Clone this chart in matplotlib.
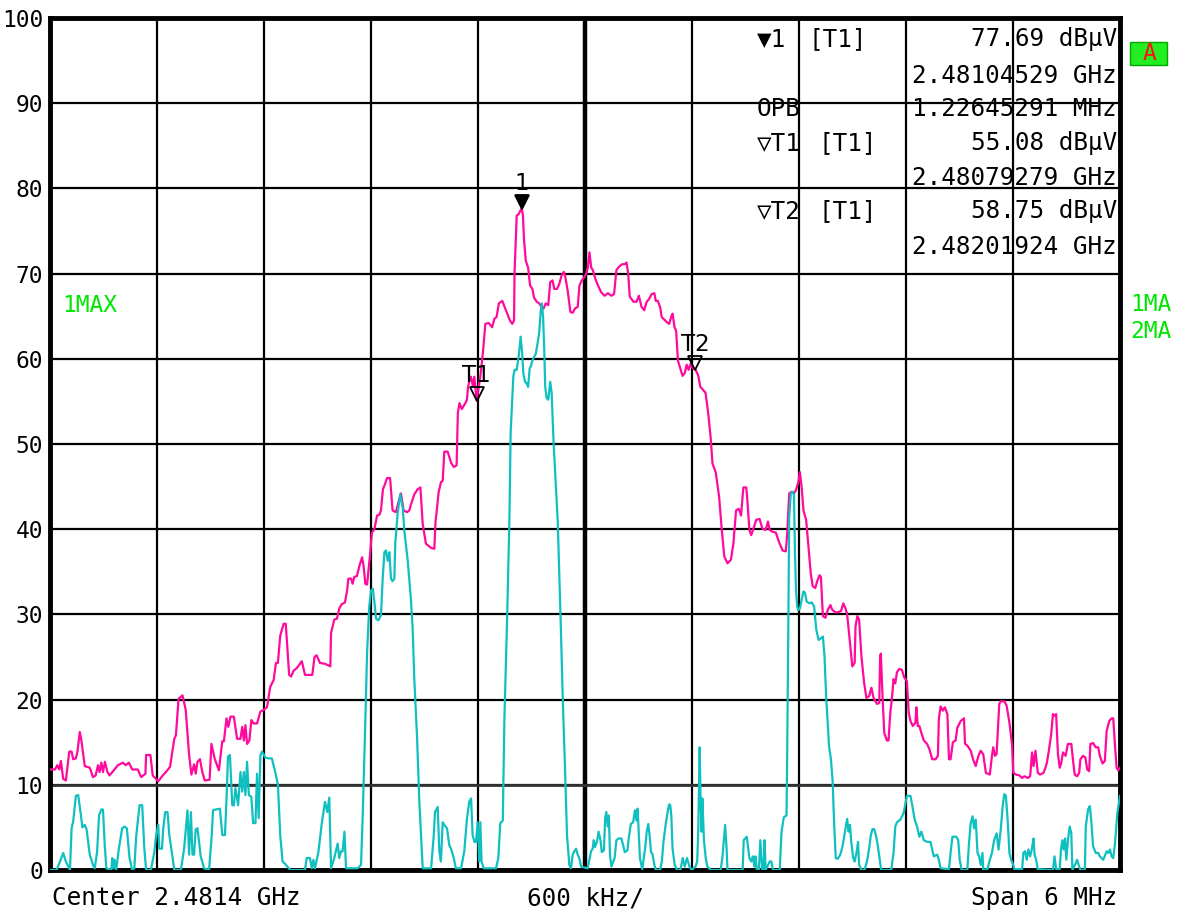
import matplotlib
matplotlib.use("Agg")
import matplotlib.pyplot as plt
from matplotlib.patches import Rectangle
from matplotlib.transforms import ScaledTranslation

# ---------------- sweep settings ----------------
CENTER_MHZ = 2481.4
SPAN_MHZ = 6.0
REF_LEVEL = 100
LEVEL_TICKS = [0, 10, 20, 30, 40, 50, 60, 70, 80, 90, 100]
OPB_MHZ = 1.22645291

# ---------------- trace 1 (max hold, magenta) ----------------
trace1_freq = [
    2478.400, 2478.428, 2478.441, 2478.452, 2478.461, 2478.474, 2478.489, 2478.508, 2478.521, 2478.530,
    2478.545, 2478.554, 2478.567, 2478.576, 2478.595, 2478.623, 2478.641, 2478.656, 2478.669, 2478.678,
    2478.688, 2478.697, 2478.708, 2478.722, 2478.734, 2478.781, 2478.809, 2478.824, 2478.842, 2478.861,
    2478.892, 2478.911, 2478.935, 2478.939, 2478.963, 2478.976, 2479.007, 2479.032, 2479.050, 2479.073,
    2479.097, 2479.106, 2479.121, 2479.143, 2479.161, 2479.180, 2479.193, 2479.208, 2479.217, 2479.227,
    2479.241, 2479.254, 2479.268, 2479.295, 2479.305, 2479.323, 2479.347, 2479.366, 2479.375, 2479.390,
    2479.400, 2479.412, 2479.431, 2479.449, 2479.468, 2479.478, 2479.487, 2479.496, 2479.505, 2479.518,
    2479.529, 2479.542, 2479.561, 2479.580, 2479.598, 2479.617, 2479.635, 2479.654, 2479.667, 2479.678,
    2479.691, 2479.710, 2479.722, 2479.741, 2479.752, 2479.766, 2479.784, 2479.812, 2479.830, 2479.849,
    2479.871, 2479.883, 2479.895, 2479.914, 2479.942, 2479.972, 2479.976, 2479.994, 2480.009, 2480.022,
    2480.036, 2480.054, 2480.066, 2480.073, 2480.088, 2480.097, 2480.106, 2480.121, 2480.135, 2480.150,
    2480.159, 2480.168, 2480.178, 2480.185, 2480.195, 2480.205, 2480.219, 2480.234, 2480.247, 2480.256,
    2480.267, 2480.275, 2480.290, 2480.307, 2480.321, 2480.340, 2480.353, 2480.368, 2480.383, 2480.402,
    2480.415, 2480.424, 2480.443, 2480.462, 2480.477, 2480.490, 2480.508, 2480.537, 2480.555, 2480.562,
    2480.567, 2480.579, 2480.592, 2480.602, 2480.611, 2480.630, 2480.649, 2480.664, 2480.680, 2480.687,
    2480.696, 2480.709, 2480.729, 2480.738, 2480.744, 2480.753, 2480.760, 2480.772, 2480.779, 2480.79279,
    2480.804, 2480.813, 2480.828, 2480.841, 2480.860, 2480.879, 2480.892, 2480.904, 2480.917, 2480.936,
    2480.949, 2480.964, 2480.979, 2480.992, 2481.002, 2481.005, 2481.017, 2481.028, 2481.04529, 2481.052,
    2481.058, 2481.068, 2481.081, 2481.092, 2481.105, 2481.114, 2481.129, 2481.143, 2481.156, 2481.167,
    2481.180, 2481.194, 2481.205, 2481.218, 2481.228, 2481.243, 2481.256, 2481.269, 2481.281, 2481.288,
    2481.303, 2481.318, 2481.331, 2481.344, 2481.359, 2481.369, 2481.382, 2481.397, 2481.407, 2481.416,
    2481.425, 2481.435, 2481.444, 2481.458, 2481.473, 2481.491, 2481.510, 2481.529, 2481.548, 2481.563,
    2481.576, 2481.590, 2481.608, 2481.623, 2481.633, 2481.642, 2481.651, 2481.671, 2481.689, 2481.702,
    2481.717, 2481.732, 2481.746, 2481.759, 2481.774, 2481.789, 2481.797, 2481.808, 2481.821, 2481.830,
    2481.849, 2481.859, 2481.872, 2481.883, 2481.891, 2481.902, 2481.911, 2481.921, 2481.934, 2481.947,
    2481.959, 2481.970, 2481.981, 2481.992, 2482.004, 2482.01924, 2482.034, 2482.047, 2482.060, 2482.076,
    2482.091, 2482.104, 2482.115, 2482.133, 2482.152, 2482.167, 2482.181, 2482.199, 2482.218, 2482.232,
    2482.247, 2482.262, 2482.275, 2482.288, 2482.304, 2482.309, 2482.322, 2482.332, 2482.345, 2482.360,
    2482.379, 2482.394, 2482.413, 2482.426, 2482.436, 2482.451, 2482.470, 2482.488, 2482.508, 2482.526,
    2482.534, 2482.545, 2482.559, 2482.572, 2482.583, 2482.596, 2482.605, 2482.615, 2482.625, 2482.640,
    2482.653, 2482.666, 2482.677, 2482.691, 2482.704, 2482.715, 2482.723, 2482.734, 2482.748, 2482.761,
    2482.776, 2482.785, 2482.794, 2482.810, 2482.836, 2482.848, 2482.861, 2482.870, 2482.886, 2482.899,
    2482.912, 2482.917, 2482.927, 2482.937, 2482.950, 2482.965, 2482.978, 2482.993, 2483.006, 2483.018,
    2483.037, 2483.050, 2483.055, 2483.059, 2483.069, 2483.078, 2483.093, 2483.102, 2483.112, 2483.121,
    2483.130, 2483.140, 2483.149, 2483.162, 2483.177, 2483.190, 2483.205, 2483.215, 2483.225, 2483.238,
    2483.253, 2483.258, 2483.266, 2483.275, 2483.286, 2483.300, 2483.318, 2483.331, 2483.347, 2483.366,
    2483.379, 2483.384, 2483.394, 2483.407, 2483.418, 2483.432, 2483.441, 2483.450, 2483.463, 2483.478,
    2483.488, 2483.507, 2483.525, 2483.531, 2483.544, 2483.563, 2483.576, 2483.591, 2483.606, 2483.619,
    2483.633, 2483.648, 2483.670, 2483.682, 2483.689, 2483.699, 2483.708, 2483.723, 2483.732, 2483.751,
    2483.764, 2483.780, 2483.795, 2483.802, 2483.817, 2483.836, 2483.851, 2483.864, 2483.883, 2483.896,
    2483.907, 2483.915, 2483.926, 2483.939, 2483.952, 2483.971, 2483.982, 2483.990, 2484.001, 2484.014,
    2484.024, 2484.033, 2484.042, 2484.052, 2484.062, 2484.071, 2484.080, 2484.095, 2484.108, 2484.127,
    2484.137, 2484.146, 2484.159, 2484.171, 2484.178, 2484.193, 2484.206, 2484.216, 2484.227, 2484.234,
    2484.249, 2484.264, 2484.278, 2484.287, 2484.302, 2484.315, 2484.325, 2484.340, 2484.353, 2484.362,
    2484.372, 2484.381, 2484.390, 2484.400,
]
trace1_level = [
    11.8, 11.8, 12.3, 11.8, 12.8, 10.7, 10.5, 13.9, 13.9, 13.0,
    13.1, 13.9, 16.2, 15.2, 12.2, 12.0, 10.9, 11.1, 12.3, 11.5,
    12.6, 11.5, 12.7, 11.5, 11.1, 12.3, 12.6, 12.3, 12.6, 11.8,
    11.8, 10.9, 11.3, 13.5, 13.5, 11.1, 10.4, 11.1, 11.5, 12.1,
    15.4, 15.8, 20.1, 20.5, 18.8, 13.5, 11.2, 12.4, 11.3, 12.7,
    13.0, 11.5, 10.5, 10.6, 14.8, 13.1, 11.7, 15.1, 15.1, 17.8,
    16.8, 18.0, 18.0, 15.4, 15.4, 16.8, 15.2, 17.0, 14.8, 15.2,
    17.6, 17.2, 17.2, 18.6, 18.8, 19.1, 21.5, 22.3, 24.3, 24.3,
    27.5, 28.9, 28.9, 22.9, 22.7, 23.4, 23.7, 24.5, 22.9, 22.9,
    22.9, 25.0, 25.2, 24.3, 24.2, 23.9, 27.8, 29.4, 29.5, 30.7,
    31.2, 31.4, 32.8, 34.2, 34.2, 33.6, 34.4, 34.5, 35.7, 36.7,
    35.6, 33.6, 33.5, 35.0, 37.1, 39.6, 40.0, 41.6, 41.7, 42.2,
    44.7, 45.1, 46.0, 46.0, 42.2, 42.0, 43.1, 44.2, 42.2, 42.0,
    42.2, 42.9, 44.1, 44.7, 44.9, 40.6, 38.3, 37.8, 37.7, 41.0,
    41.8, 44.3, 45.5, 45.7, 49.1, 49.1, 47.8, 47.3, 47.5, 53.6,
    54.8, 54.1, 54.8, 55.2, 56.7, 57.5, 57.9, 56.7, 57.9, 55.08,
    56.7, 57.9, 60.8, 64.1, 64.2, 63.7, 64.7, 64.9, 66.5, 66.8,
    66.1, 65.3, 64.5, 64.1, 64.5, 70.2, 76.8, 77.0, 77.69, 76.8,
    74.0, 71.5, 70.7, 68.6, 68.2, 67.2, 66.7, 66.5, 66.1, 65.9,
    66.5, 66.3, 69.0, 69.2, 68.2, 68.2, 68.8, 69.8, 70.2, 69.8,
    68.0, 65.5, 65.4, 65.9, 66.1, 68.6, 69.2, 69.6, 70.0, 70.7,
    72.5, 70.7, 70.4, 69.4, 68.6, 67.8, 67.4, 67.7, 67.4, 67.6,
    70.4, 70.8, 71.1, 71.1, 71.3, 70.0, 67.3, 66.7, 66.7, 67.4,
    66.1, 65.7, 66.7, 67.0, 67.6, 67.7, 66.8, 66.8, 66.1, 64.9,
    64.5, 64.3, 64.1, 64.9, 65.3, 63.7, 63.3, 59.8, 58.9, 58.0,
    58.3, 59.3, 58.7, 59.4, 58.9, 58.75, 58.1, 56.7, 56.4, 56.0,
    53.6, 50.9, 47.7, 46.7, 43.8, 39.9, 36.8, 36.0, 36.4, 38.3,
    42.2, 42.4, 41.6, 44.9, 44.9, 43.8, 39.9, 39.3, 40.1, 41.1,
    41.2, 40.1, 39.9, 40.9, 39.9, 39.7, 39.6, 38.5, 37.5, 37.4,
    39.5, 44.2, 44.4, 44.2, 44.6, 45.5, 46.7, 44.9, 42.2, 41.1,
    37.9, 34.8, 33.3, 33.1, 34.0, 34.6, 34.4, 29.8, 29.6, 30.5,
    31.1, 30.6, 30.4, 30.2, 30.4, 31.3, 30.7, 30.0, 26.7, 23.9,
    24.3, 28.6, 29.8, 29.4, 25.1, 22.0, 20.2, 20.4, 21.4, 20.2,
    19.5, 19.6, 25.1, 25.4, 20.1, 16.1, 15.2, 15.2, 18.5, 20.1,
    22.4, 21.9, 23.2, 23.6, 23.5, 22.6, 22.2, 18.5, 17.5, 16.9,
    17.3, 19.1, 16.9, 16.9, 16.1, 15.2, 14.8, 14.2, 13.0, 13.0,
    13.4, 17.7, 19.2, 18.7, 19.1, 18.3, 13.0, 13.0, 15.0, 15.2,
    16.7, 17.5, 17.8, 14.8, 14.6, 14.0, 13.0, 12.2, 13.4, 14.0,
    13.6, 11.4, 11.2, 13.4, 14.4, 13.4, 13.6, 19.5, 19.8, 19.8,
    19.3, 17.3, 14.6, 11.4, 11.2, 11.1, 10.8, 11.0, 10.8, 11.0,
    13.8, 12.2, 14.0, 11.4, 11.2, 11.4, 12.0, 12.6, 14.0, 15.9,
    18.3, 18.1, 18.3, 13.6, 12.0, 12.6, 13.8, 13.4, 14.8, 14.8,
    12.8, 11.2, 11.0, 11.4, 13.0, 13.4, 13.2, 11.8, 11.6, 14.8,
    14.9, 14.4, 14.4, 13.4, 12.5, 12.8, 16.3, 17.5, 17.8, 17.8,
    14.6, 12.0, 11.7, 12.0,
]

# ---------------- trace 2 (max hold, cyan) ----------------
trace2_freq = [
    2478.400, 2478.437, 2478.456, 2478.474, 2478.489, 2478.512, 2478.521, 2478.530, 2478.545, 2478.558,
    2478.571, 2478.582, 2478.595, 2478.605, 2478.623, 2478.641, 2478.651, 2478.664, 2478.675, 2478.688,
    2478.697, 2478.707, 2478.716, 2478.744, 2478.749, 2478.756, 2478.762, 2478.771, 2478.786, 2478.805,
    2478.818, 2478.831, 2478.846, 2478.861, 2478.873, 2478.883, 2478.892, 2478.902, 2478.917, 2478.929,
    2478.939, 2478.966, 2478.985, 2478.995, 2479.007, 2479.013, 2479.028, 2479.035, 2479.046, 2479.059,
    2479.069, 2479.083, 2479.097, 2479.134, 2479.152, 2479.161, 2479.171, 2479.180, 2479.190, 2479.199,
    2479.208, 2479.217, 2479.227, 2479.245, 2479.264, 2479.292, 2479.307, 2479.314, 2479.329, 2479.353,
    2479.366, 2479.381, 2479.390, 2479.398, 2479.409, 2479.422, 2479.431, 2479.440, 2479.455, 2479.468,
    2479.478, 2479.487, 2479.496, 2479.505, 2479.515, 2479.529, 2479.539, 2479.552, 2479.561, 2479.570,
    2479.580, 2479.589, 2479.607, 2479.626, 2479.644, 2479.663, 2479.678, 2479.691, 2479.704, 2479.719,
    2479.747, 2479.830, 2479.839, 2479.858, 2479.868, 2479.877, 2479.886, 2479.905, 2479.923, 2479.942,
    2479.955, 2479.966, 2479.976, 2479.994, 2480.013, 2480.022, 2480.032, 2480.041, 2480.051, 2480.060,
    2480.125, 2480.144, 2480.153, 2480.166, 2480.178, 2480.190, 2480.200, 2480.210, 2480.219, 2480.228,
    2480.241, 2480.256, 2480.265, 2480.275, 2480.284, 2480.294, 2480.303, 2480.312, 2480.321, 2480.331,
    2480.336, 2480.349, 2480.364, 2480.378, 2480.387, 2480.406, 2480.424, 2480.433, 2480.443, 2480.458,
    2480.471, 2480.490, 2480.537, 2480.552, 2480.559, 2480.574, 2480.583, 2480.592, 2480.602, 2480.611,
    2480.626, 2480.639, 2480.649, 2480.664, 2480.676, 2480.705, 2480.723, 2480.738, 2480.751, 2480.761,
    2480.770, 2480.780, 2480.789, 2480.798, 2480.807, 2480.813, 2480.820, 2480.832, 2480.901, 2480.914,
    2480.925, 2480.939, 2480.948, 2480.963, 2480.976, 2480.983, 2480.998, 2481.005, 2481.017, 2481.030,
    2481.039, 2481.048, 2481.054, 2481.064, 2481.073, 2481.081, 2481.090, 2481.096, 2481.105, 2481.114,
    2481.124, 2481.134, 2481.143, 2481.152, 2481.158, 2481.165, 2481.171, 2481.177, 2481.185, 2481.194,
    2481.205, 2481.213, 2481.224, 2481.247, 2481.266, 2481.276, 2481.288, 2481.299, 2481.312, 2481.321,
    2481.331, 2481.340, 2481.350, 2481.359, 2481.368, 2481.378, 2481.415, 2481.434, 2481.443, 2481.449,
    2481.456, 2481.468, 2481.476, 2481.487, 2481.494, 2481.506, 2481.513, 2481.519, 2481.528, 2481.534,
    2481.540, 2481.548, 2481.566, 2481.576, 2481.589, 2481.604, 2481.614, 2481.623, 2481.638, 2481.645,
    2481.657, 2481.670, 2481.680, 2481.689, 2481.695, 2481.699, 2481.708, 2481.721, 2481.727, 2481.737,
    2481.746, 2481.755, 2481.765, 2481.770, 2481.778, 2481.789, 2481.797, 2481.821, 2481.831, 2481.840,
    2481.854, 2481.865, 2481.872, 2481.878, 2481.884, 2481.891, 2481.903, 2481.916, 2481.935, 2481.948,
    2481.959, 2481.972, 2481.986, 2481.997, 2482.020, 2482.029, 2482.035, 2482.043, 2482.048, 2482.054,
    2482.058, 2482.067, 2482.077, 2482.086, 2482.105, 2482.161, 2482.171, 2482.181, 2482.186, 2482.194,
    2482.199, 2482.284, 2482.290, 2482.298, 2482.307, 2482.313, 2482.322, 2482.332, 2482.341, 2482.350,
    2482.356, 2482.364, 2482.375, 2482.383, 2482.394, 2482.401, 2482.407, 2482.413, 2482.436, 2482.445,
    2482.454, 2482.492, 2482.502, 2482.515, 2482.530, 2482.534, 2482.539, 2482.545, 2482.554, 2482.564,
    2482.572, 2482.577, 2482.583, 2482.590, 2482.596, 2482.605, 2482.615, 2482.625, 2482.634, 2482.643,
    2482.659, 2482.672, 2482.685, 2482.697, 2482.710, 2482.723, 2482.734, 2482.743, 2482.753, 2482.761,
    2482.768, 2482.779, 2482.789, 2482.794, 2482.800, 2482.806, 2482.817, 2482.829, 2482.836, 2482.845,
    2482.855, 2482.861, 2482.870, 2482.878, 2482.886, 2482.893, 2482.904, 2482.912, 2482.923, 2482.931,
    2482.937, 2482.950, 2482.968, 2482.983, 2482.993, 2483.003, 2483.012, 2483.021, 2483.031, 2483.040,
    2483.061, 2483.117, 2483.130, 2483.140, 2483.149, 2483.168, 2483.187, 2483.196, 2483.205, 2483.225,
    2483.234, 2483.249, 2483.262, 2483.275, 2483.286, 2483.300, 2483.318, 2483.337, 2483.347, 2483.356,
    2483.375, 2483.384, 2483.394, 2483.441, 2483.450, 2483.460, 2483.482, 2483.493, 2483.501, 2483.512,
    2483.544, 2483.553, 2483.563, 2483.573, 2483.582, 2483.591, 2483.601, 2483.610, 2483.619, 2483.629,
    2483.633, 2483.657, 2483.670, 2483.682, 2483.694, 2483.708, 2483.719, 2483.732, 2483.742, 2483.751,
    2483.760, 2483.770, 2483.780, 2483.789, 2483.798, 2483.808, 2483.851, 2483.858, 2483.868, 2483.877,
    2483.886, 2483.896, 2483.907, 2483.915, 2483.921, 2483.930, 2483.939, 2484.024, 2484.033, 2484.042,
    2484.062, 2484.069, 2484.077, 2484.084, 2484.092, 2484.099, 2484.108, 2484.118, 2484.127, 2484.133,
    2484.152, 2484.159, 2484.171, 2484.178, 2484.203, 2484.208, 2484.221, 2484.231, 2484.240, 2484.249,
    2484.264, 2484.278, 2484.287, 2484.306, 2484.325, 2484.334, 2484.344, 2484.353, 2484.362, 2484.372,
    2484.385, 2484.400,
]
trace2_level = [
    0.0, 0.0, 1.0, 2.0, 1.0, 0.0, 4.9, 5.7, 8.7, 8.8,
    6.8, 5.0, 5.3, 4.8, 1.8, 0.6, 0.2, 2.1, 6.4, 7.1,
    7.1, 2.9, 0.2, 0.0, 1.4, 0.2, 1.2, 0.0, 2.5, 4.9,
    5.1, 4.9, 1.4, 0.0, 0.2, 3.9, 5.7, 7.6, 7.6, 2.5,
    0.0, 0.0, 2.1, 4.1, 5.3, 2.5, 2.5, 4.9, 6.8, 6.8,
    4.1, 2.1, 0.0, 0.0, 2.5, 4.7, 7.0, 1.8, 6.8, 1.8,
    1.8, 4.8, 4.9, 1.6, 0.2, 0.0, 4.1, 7.0, 7.1, 7.2,
    4.1, 4.1, 8.4, 13.3, 13.5, 7.6, 7.6, 9.6, 7.6, 11.5,
    9.2, 11.5, 8.8, 12.7, 8.8, 8.6, 5.5, 5.5, 11.3, 6.1,
    13.5, 13.9, 13.2, 13.1, 13.1, 11.5, 10.0, 4.1, 1.0, 0.7,
    0.0, 0.0, 1.4, 1.4, 0.2, 1.2, 0.2, 2.1, 5.3, 8.0,
    6.8, 8.5, 0.2, 1.4, 3.1, 1.4, 2.2, 2.2, 4.5, 0.2,
    0.2, 0.6, 6.0, 15.7, 25.5, 30.9, 32.8, 33.0, 31.5, 29.5,
    29.3, 29.9, 34.0, 37.3, 37.5, 36.3, 37.3, 34.2, 33.9, 34.2,
    38.3, 41.8, 44.1, 42.5, 39.8, 36.3, 31.7, 28.6, 22.3, 15.7,
    8.0, 0.2, 0.2, 4.1, 6.8, 7.4, 2.2, 1.0, 5.6, 5.3,
    4.9, 2.9, 2.5, 1.4, 0.2, 0.2, 2.2, 6.0, 8.0, 8.4,
    4.1, 3.3, 3.3, 5.6, 1.0, 5.6, 1.0, 0.2, 0.2, 1.4,
    5.5, 5.8, 17.7, 29.3, 41.0, 51.3, 57.9, 58.7, 58.7, 60.6,
    62.6, 60.6, 58.3, 57.3, 57.1, 56.7, 58.9, 59.1, 59.8, 60.2,
    60.6, 61.8, 63.0, 65.7, 66.5, 64.9, 61.4, 56.7, 55.4, 55.2,
    57.3, 56.0, 50.1, 41.0, 27.4, 19.6, 11.9, 4.1, 0.6, 0.2,
    1.8, 2.2, 2.5, 1.8, 1.4, 0.4, 0.2, 2.2, 2.5, 3.5,
    2.7, 3.4, 4.5, 3.5, 2.1, 2.3, 6.0, 6.8, 5.1, 6.4,
    1.8, 0.4, 1.4, 3.5, 3.7, 3.7, 2.9, 2.1, 2.3, 3.7,
    5.4, 5.6, 7.0, 5.8, 7.2, 5.4, 1.4, 0.1, 1.0, 2.5,
    4.5, 5.4, 3.5, 2.1, 1.9, 0.6, 0.0, 0.0, 1.0, 3.3,
    5.6, 7.0, 7.7, 7.6, 6.4, 2.5, 0.6, 0.0, 0.0, 1.4,
    0.4, 1.4, 0.4, 0.0, 0.4, 1.0, 4.5, 14.4, 8.4, 4.5,
    8.4, 3.5, 1.4, 0.4, 0.0, 0.0, 1.6, 4.1, 5.3, 2.5,
    0.0, 0.0, 3.5, 3.7, 3.9, 2.9, 1.4, 1.0, 1.6, 0.4,
    1.6, 0.0, 0.0, 3.5, 0.0, 0.0, 3.5, 0.0, 1.0, 1.0,
    0.0, 0.0, 4.5, 6.2, 6.4, 14.2, 25.9, 41.4, 44.2, 44.4,
    44.0, 37.5, 32.9, 30.9, 30.5, 30.7, 31.7, 32.7, 32.5, 31.5,
    31.3, 31.4, 30.9, 28.2, 27.0, 27.2, 27.4, 25.1, 20.0, 17.3,
    14.6, 13.0, 10.3, 7.2, 4.1, 1.4, 1.3, 1.7, 2.1, 2.9,
    4.1, 4.9, 6.0, 4.5, 5.3, 3.3, 1.4, 1.0, 2.1, 3.3,
    0.6, 0.0, 0.0, 1.2, 2.5, 4.1, 4.8, 4.8, 4.1, 3.1,
    0.0, 0.0, 2.0, 5.1, 5.6, 5.9, 6.7, 7.7, 8.7, 8.7,
    7.7, 5.9, 5.1, 3.9, 4.5, 3.5, 3.3, 3.3, 2.4, 1.6,
    1.8, 1.2, 0.2, 0.1, 2.0, 3.9, 3.9, 3.5, 1.2, 0.0,
    0.0, 3.1, 5.5, 6.3, 4.9, 5.9, 2.0, 1.6, 0.6, 2.0,
    0.0, 0.1, 1.2, 2.0, 3.5, 4.3, 2.4, 4.9, 7.5, 8.9,
    8.7, 5.9, 2.0, 1.2, 0.8, 0.1, 0.1, 2.0, 2.2, 1.2,
    2.4, 1.6, 2.6, 3.7, 1.8, 1.2, 0.1, 0.0, 1.6, 0.1,
    0.1, 2.4, 3.5, 2.4, 3.7, 1.2, 3.5, 5.1, 4.3, 0.0,
    0.8, 1.2, 0.4, 0.0, 0.0, 5.1, 7.1, 7.5, 5.5, 2.8,
    2.0, 2.0, 1.6, 1.2, 2.2, 2.0, 2.4, 1.6, 1.4, 3.1,
    6.7, 8.7,
]

# ---------------- markers ----------------
marker_names = ["1", "T1", "T2"]
marker_freq_ghz = [2.48104529, 2.48079279, 2.48201924]
marker_level = [77.69, 55.08, 58.75]

# ---------------- colours / fonts ----------------
TRACE1_COLOR = "#ff0a9c"
TRACE2_COLOR = "#10c0c0"
LABEL_GREEN = "#00e600"
MONO = ["DejaVu Sans Mono", "DejaVu Sans"]
FS = 17.5        # annotation text
FS_TICK = 16.5   # level scale

W, H = 1182, 913
fig = plt.figure(figsize=(W / 100, H / 100), dpi=100)
fig.patch.set_facecolor("white")


def fx(px):
    return px / W


def fy(py):
    return 1 - py / H


ax = fig.add_axes([fx(50), fy(870), fx(1120) - fx(50), fy(18) - fy(870)])
f_start = CENTER_MHZ - SPAN_MHZ / 2
f_stop = CENTER_MHZ + SPAN_MHZ / 2
ax.set_xlim(f_start, f_stop)
ax.set_ylim(0, REF_LEVEL)

# graticule
xgrid = [f_start + i * SPAN_MHZ / 10 for i in range(11)]
ax.set_xticks(xgrid)
ax.set_xticklabels([])
ax.set_yticks(LEVEL_TICKS)
ax.set_yticklabels([str(v) for v in LEVEL_TICKS], family=MONO, fontsize=FS_TICK)
ax.tick_params(axis="both", length=0, pad=5)
ax.grid(True, color="black", linewidth=1.6, zorder=1)
ax.set_axisbelow(True)
ax.axvline(CENTER_MHZ, color="black", linewidth=3.2, zorder=1)
# display line at 10 dB
ax.axhline(10, color="#333333", linewidth=2.0, zorder=1.1)
for s in ax.spines.values():
    s.set_linewidth(3.5)
    s.set_color("black")

# traces
ax.plot(trace1_freq, trace1_level, color=TRACE1_COLOR, linewidth=1.6, zorder=3)
ax.plot(trace2_freq, trace2_level, color=TRACE2_COLOR, linewidth=1.6, zorder=3)

# markers on the traces (triangle tip sits on the marker level)
tip_shift = ScaledTranslation(0, 6.5 / 100, fig.dpi_scale_trans)
for name, fg, lev in zip(marker_names, marker_freq_ghz, marker_level):
    fm = fg * 1000.0
    filled = name == "1"
    ax.plot([fm], [lev], marker="v", markersize=9.5, linestyle="none",
            markerfacecolor="black" if filled else "none",
            markeredgecolor="black", markeredgewidth=1.3, zorder=4,
            transform=ax.transData + tip_shift)
    ax.annotate(name, xy=(fm, lev), xytext=(0, 25), textcoords="offset pixels",
                ha="center", va="center", fontsize=FS_TICK,
                family=["DejaVu Sans", "DejaVu Sans Mono"], color="black", zorder=5)


# marker table
def fmt_level(v):
    return f"{v:.2f} dB\u00b5V"


def fmt_freq(v):
    return f"{v:.8f} GHz"


rows = [
    (39, "\u25bc1", 808, "[T1]", fmt_level(marker_level[0])),
    (76, "", None, "", fmt_freq(marker_freq_ghz[0])),
    (109, "OPB", None, "", f"{OPB_MHZ:.8f} MHz"),
    (143, "\u25bdT1", 818, "[T1]", fmt_level(marker_level[1])),
    (178, "", None, "", fmt_freq(marker_freq_ghz[1])),
    (211, "\u25bdT2", 818, "[T1]", fmt_level(marker_level[2])),
    (247, "", None, "", fmt_freq(marker_freq_ghz[2])),
]
for y, lab, tx, tag, val in rows:
    if lab:
        fig.text(fx(757), fy(y), lab, ha="left", va="center", family=MONO, fontsize=FS)
    if tag:
        fig.text(fx(tx), fy(y), tag, ha="left", va="center", family=MONO, fontsize=FS)
    fig.text(fx(1117), fy(y), val, ha="right", va="center", family=MONO, fontsize=FS)

# trace labels
fig.text(fx(62), fy(305), "1MAX", ha="left", va="center", family=MONO, fontsize=FS_TICK, color=LABEL_GREEN)
fig.text(fx(1130), fy(304), "1MA", ha="left", va="center", family=MONO, fontsize=FS_TICK, color=LABEL_GREEN)
fig.text(fx(1130), fy(332), "2MA", ha="left", va="center", family=MONO, fontsize=FS_TICK, color=LABEL_GREEN)

# active-screen badge
badge = Rectangle((fx(1130), fy(65)), fx(37), fy(42) - fy(65), transform=fig.transFigure,
                  facecolor="#22ee22", edgecolor="#00aa00", linewidth=1.0)
fig.patches.append(badge)
fig.text(fx(1149), fy(54), "A", ha="center", va="center", family=MONO, fontsize=FS_TICK, color="#ff1010")

# bottom annotations
fig.text(fx(52), fy(898), f"Center {CENTER_MHZ / 1000:.4f} GHz", ha="left", va="center",
         family=MONO, fontsize=FS)
fig.text(fx(527), fy(898), f"{SPAN_MHZ / 10 * 1000:.0f} kHz/", ha="left", va="center",
         family=MONO, fontsize=FS)
fig.text(fx(1117), fy(898), f"Span {SPAN_MHZ:.0f} MHz", ha="right", va="center",
         family=MONO, fontsize=FS)

fig.savefig("out.png", dpi=100, facecolor="white")
